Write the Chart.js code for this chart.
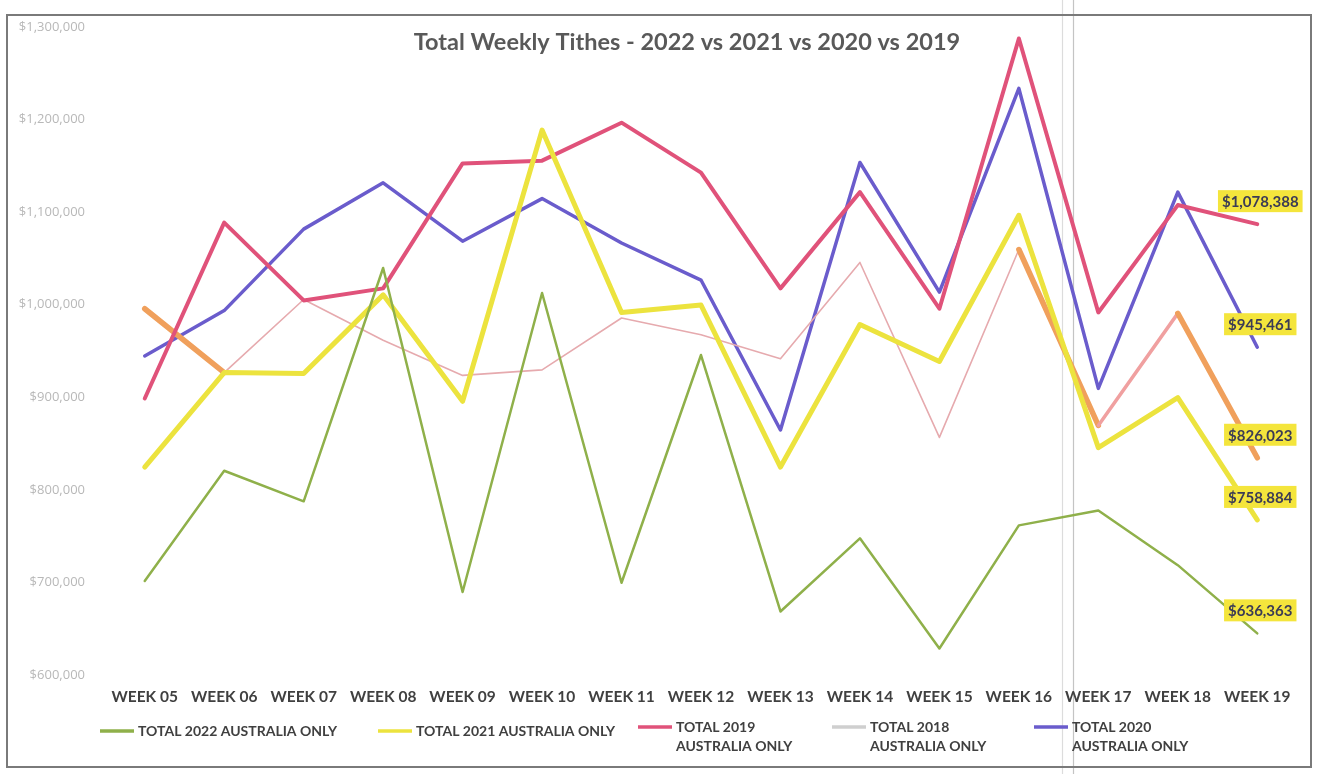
<!DOCTYPE html>
<html>
<head>
<meta charset="utf-8">
<title>Total Weekly Tithes</title>
<script src="https://cdn.jsdelivr.net/npm/chart.js@4.4.1/dist/chart.umd.min.js"></script>
<style>
  html, body { margin:0; padding:0; background:#fff; }
  #wrap { position:relative; width:1322px; height:774px; }
</style>
</head>
<body>
<div id="wrap"><canvas id="tithes" width="1322" height="774"></canvas></div>
<script>
// weekly totals, Australia only
const weeks = ['WEEK 05','WEEK 06','WEEK 07','WEEK 08','WEEK 09','WEEK 10','WEEK 11','WEEK 12',
               'WEEK 13','WEEK 14','WEEK 15','WEEK 16','WEEK 17','WEEK 18','WEEK 19'];

const total2022 = [693000, 812000, 779000, 1031000, 681000, 1004000, 691000, 937000,
                   660000, 739000, 620000, 753000, 769000, 710000, 636363];
const total2021 = [816000, 918000, 917000, 1002000, 887000, 1180000, 983000, 991000,
                   816000, 970000, 930000, 1088000, 837000, 891000, 758884];
const total2019 = [890000, 1080000, 996000, 1009000, 1144000, 1147000, 1188000, 1134000,
                   1009000, 1113000, 987000, 1279000, 983000, 1099000, 1078388];
const total2018 = [987000, 918000, 997000, 953000, 915000, 921000, 977000, 959000,
                   933000, 1037000, 848000, 1051000, 861000, 982000, 826023];
const total2020 = [936000, 985000, 1073000, 1123000, 1060000, 1106000, 1058000, 1018000,
                   856000, 1145000, 1005000, 1225000, 901000, 1113000, 945461];

const yMin = 600000, yMax = 1300000, yStep = 100000;

// 2018 segments marked up in orange (start index of segment)
const marked2018 = [0, 11, 13];

const money = v => '$' + Math.round(v).toLocaleString('en-US');

// outer frame + fold line
const framePlugin = {
  id: 'frame',
  beforeDraw(chart) {
    const c = chart.ctx;
    c.save();
    c.fillStyle = '#fff';
    c.fillRect(0, 0, chart.width, chart.height);
    c.strokeStyle = '#dcdcdc';
    c.lineWidth = 1.2;
    c.beginPath(); c.moveTo(1062.5, 0); c.lineTo(1062.5, 774); c.stroke();
    c.strokeStyle = '#c4c4c4';
    c.beginPath(); c.moveTo(1073.5, 0); c.lineTo(1073.5, 774); c.stroke();
    c.strokeStyle = '#7a7a7a';
    c.lineWidth = 2;
    c.strokeRect(7, 15, 1304, 752);
    c.restore();
  },
  beforeDatasetsDraw(chart) {
    const c = chart.ctx;
    c.save();
    c.font = 'bold 23.5px Lato';
    c.fillStyle = '#595959';
    c.textAlign = 'center';
    c.textBaseline = 'middle';
    c.fillText('Total Weekly Tithes - 2022 vs 2021 vs 2020 vs 2019', 687, 42);
    c.restore();
  }
};

// value tags on the last week of each series
const endLabels = {
  id: 'endLabels',
  afterDatasetsDraw(chart) {
    const c = chart.ctx;
    c.save();
    c.font = 'bold 15px Lato';
    c.textAlign = 'center';
    c.textBaseline = 'middle';
    chart.data.datasets.forEach((ds, i) => {
      const meta = chart.getDatasetMeta(i);
      const pt = meta.data[meta.data.length - 1];
      const txt = money(ds.data[ds.data.length - 1]);
      const w = c.measureText(txt).width + 8;
      const cx = pt.x + 3, cy = pt.y - 23;
      c.fillStyle = '#f4e53c';
      c.fillRect(cx - w / 2, cy - 11, w, 22);
      c.fillStyle = '#3b3b55';
      c.fillText(txt, cx, cy + 1);
    });
    c.restore();
  }
};

// legend drawn under the axis
const legendPlugin = {
  id: 'bottomLegend',
  afterDraw(chart) {
    const c = chart.ctx;
    const spots = [
      { x: 100, y: 731 }, { x: 378, y: 731 }, { x: 638, y: 727 }, { x: 832, y: 727 }, { x: 1034, y: 727 }
    ];
    c.save();
    c.font = 'bold 14px Lato';
    c.fillStyle = '#404040';
    c.textBaseline = 'middle';
    chart.data.datasets.forEach((ds, i) => {
      const s = spots[i];
      c.strokeStyle = ds.legendColor;
      c.lineWidth = 3.5;
      c.beginPath(); c.moveTo(s.x, s.y); c.lineTo(s.x + 34, s.y); c.stroke();
      ds.legendLines.forEach((ln, k) => c.fillText(ln, s.x + 38, s.y + k * 19));
    });
    c.restore();
  }
};

const ctx = document.getElementById('tithes').getContext('2d');
new Chart(ctx, {
  type: 'line',
  data: {
    labels: weeks,
    datasets: [
      { label: 'TOTAL 2022 AUSTRALIA ONLY', legendLines: ['TOTAL 2022 AUSTRALIA ONLY'],
        data: total2022, borderColor: '#8fb04a', legendColor: '#8fb04a', borderWidth: 2.5 },
      { label: 'TOTAL 2021 AUSTRALIA ONLY', legendLines: ['TOTAL 2021 AUSTRALIA ONLY'],
        data: total2021, borderColor: '#ece33e', legendColor: '#ece33e', borderWidth: 5 },
      { label: 'TOTAL 2019 AUSTRALIA ONLY', legendLines: ['TOTAL 2019', 'AUSTRALIA ONLY'],
        data: total2019, borderColor: '#e0527a', legendColor: '#e0527a', borderWidth: 4 },
      { label: 'TOTAL 2018 AUSTRALIA ONLY', legendLines: ['TOTAL 2018', 'AUSTRALIA ONLY'],
        data: total2018, borderColor: '#e6aaae', legendColor: '#cfcfcf', borderWidth: 1.6,
        segment: {
          borderColor: s => marked2018.includes(s.p0DataIndex) ? '#f0a05c' : (s.p0DataIndex === 12 ? '#f0a0a0' : '#e6aaae'),
          borderWidth: s => marked2018.includes(s.p0DataIndex) ? 5.5 : (s.p0DataIndex === 12 ? 3.5 : 1.6)
        } },
      { label: 'TOTAL 2020 AUSTRALIA ONLY', legendLines: ['TOTAL 2020', 'AUSTRALIA ONLY'],
        data: total2020, borderColor: '#6a5ccc', legendColor: '#6a5ccc', borderWidth: 3.5 }
    ]
  },
  options: {
    responsive: false,
    animation: false,
    devicePixelRatio: 1,
    layout: { padding: { left: 10, right: 25, top: 19, bottom: 57 } },
    elements: {
      point: { radius: 0, hoverRadius: 0 },
      line: { tension: 0, borderJoinStyle: 'round', borderCapStyle: 'round', fill: false }
    },
    plugins: {
      legend: { display: false },
      title: { display: false },
      tooltip: { enabled: false }
    },
    scales: {
      x: {
        offset: true,
        grid: { display: false, drawTicks: false },
        border: { display: false },
        ticks: { color: '#404040', font: { family: 'Lato', weight: 'bold', size: 15.5 }, padding: 21, maxRotation: 0, autoSkip: false },
        afterFit(scale) { scale.height = 50; }
      },
      y: {
        min: yMin, max: yMax,
        grid: { display: false, drawTicks: false },
        border: { display: false },
        ticks: {
          stepSize: yStep,
          color: '#b8b8b8',
          font: { family: 'Open Sans', size: 13 },
          padding: 20,
          labelOffset: 8,
          callback: v => money(v)
        },
        afterFit(scale) {
          scale.width = 95;
          scale.paddingTop = 0;
          scale.paddingBottom = 0;
        }
      }
    }
  },
  plugins: [framePlugin, endLabels, legendPlugin]
});
</script>
</body>
</html>
